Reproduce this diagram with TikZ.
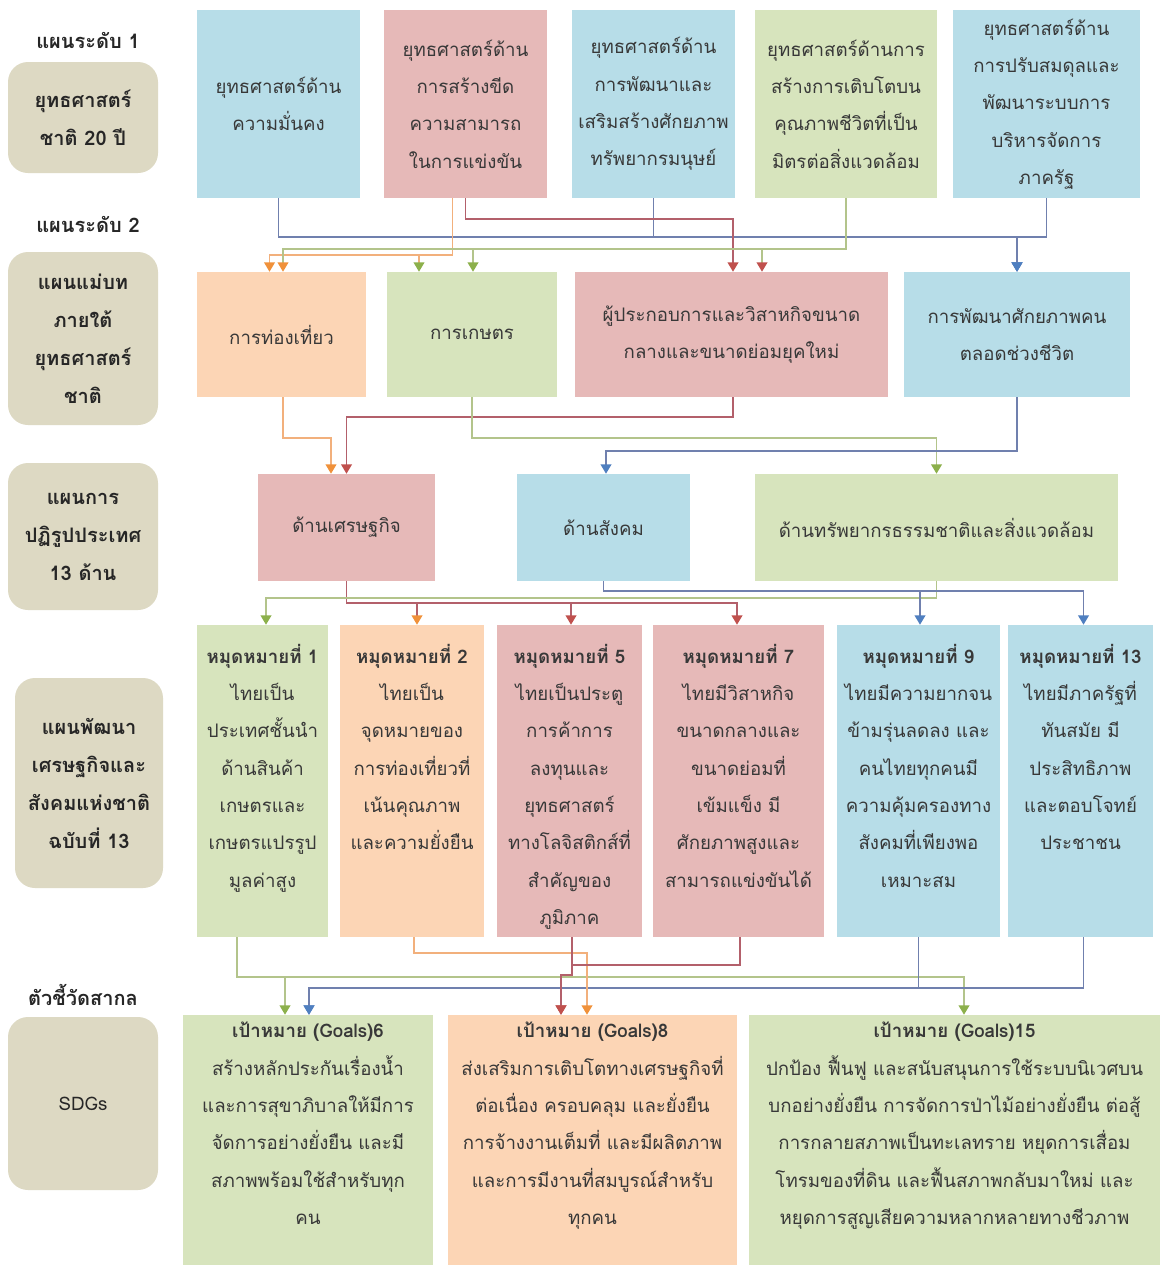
\documentclass[tikz,border=0pt]{standalone}
\usepackage{fontspec}
\newfontfamily\thaifont[Script=Thai]{Loma}
\usetikzlibrary{arrows.meta,calc,positioning}
\definecolor{boxblue}{HTML}{B7DDE8}
\definecolor{boxpink}{HTML}{E6B9B8}
\definecolor{boxgreen}{HTML}{D7E4BD}
\definecolor{boxorange}{HTML}{FCD5B5}
\definecolor{boxtan}{HTML}{DDD9C3}
\definecolor{lnblue}{HTML}{7080AE}
\definecolor{lnred}{HTML}{B3606B}
\definecolor{lnorange}{HTML}{F2B07C}
\definecolor{lngreen}{HTML}{B3C48B}
\definecolor{tipor}{HTML}{F0913A}
\definecolor{tipgr}{HTML}{8CB04B}
\definecolor{tipred}{HTML}{C0504D}
\definecolor{tipbl}{HTML}{4F7FC0}
\definecolor{txtgray}{HTML}{383838}
\tikzset{
	box/.style={
		rectangle,
		inner sep=0pt,
		align=center,
		text=txtgray,
		font=\thaifont\fontsize{14}{28}\selectfont},
	blu/.style={box, fill=boxblue},
	pnk/.style={box, fill=boxpink},
	grn/.style={box, fill=boxgreen},
	org/.style={box, fill=boxorange},
	tan/.style={
		box,
		fill=boxtan,
		rounded corners=15pt,
		text=black!85,
		font=\thaifont\bfseries\fontsize{15}{28.5}\selectfont},
	level/.style={
		text=black!85,
		font=\thaifont\bfseries\fontsize{15}{28}\selectfont},
	bline/.style={draw=lnblue, line width=1.2pt},
	rline/.style={draw=lnred, line width=1.2pt},
	oline/.style={draw=lnorange, line width=1.2pt},
	gline/.style={draw=lngreen, line width=1.2pt},
	otip/.style={-{Triangle[width=8pt,length=7pt,color=tipor]}},
	gtip/.style={-{Triangle[width=8pt,length=7pt,color=tipgr]}},
	rtip/.style={-{Triangle[width=8pt,length=7pt,color=tipred]}},
	btip/.style={-{Triangle[width=8pt,length=7pt,color=tipbl]}}
}
% box from (x1,y1) to (x2,y2), text centred
\newcommand{\mkbox}[7]{%
	\node[#6, minimum width={(#4-#2)*0.75pt}, minimum height={(#5-#3)*0.75pt}]
		(#1) at ({(#2+#4)/2},{(#3+#5)/2}) {#7};}
% box from (x1,y1) to (x2,y2), text from the top, #7 = top pad
\newcommand{\topbox}[8]{%
	\node[#6, minimum width={(#4-#2)*0.75pt}, minimum height={(#5-#3)*0.75pt}]
		(#1) at ({(#2+#4)/2},{(#3+#5)/2})
		{\parbox[c][\dimexpr0.75pt*(#5-#3-2*#7)\relax][t]{\dimexpr0.75pt*(#4-#2-4)\relax}{\centering\rule{0pt}{14pt}#8}};}

\begin{document}
\begin{tikzpicture}[x=0.75pt,y=0.75pt,yscale=-1,xscale=1]
\useasboundingbox[fill=white] (0,0) rectangle (1169,1271);

% left column
\node[level] (lv1) at (88,40) {แผนระดับ 1};
\node[level] (lv2) at (88,224) {แผนระดับ 2};
\node[level] (lv3) at (83,995) {ตัวชี้วัดสากล};
\mkbox{l1}{8}{62}{158}{173}{tan}{ยุทธศาสตร์\\ชาติ 20 ปี}
\mkbox{l2}{8}{252}{158}{425}{tan}{แผนแม่บท\\ภายใต้\\ยุทธศาสตร์\\ชาติ}
\mkbox{l3}{8}{463}{158}{610}{tan}{แผนการ\\ปฏิรูปประเทศ\\13 ด้าน}
\mkbox{l4}{15}{678}{163}{888}{tan}{แผนพัฒนา\\เศรษฐกิจและ\\สังคมแห่งชาติ\\ฉบับที่ 13}
\mkbox{l5}{8}{1017}{158}{1190}{tan, font=\thaifont\fontsize{14}{28}\selectfont}{SDGs}

% level 1
\mkbox{b1}{197}{10}{360}{198}{blu}{ยุทธศาสตร์ด้าน\\ความมั่นคง}
\mkbox{b2}{384}{10}{547}{198}{pnk}{ยุทธศาสตร์ด้าน\\การสร้างขีด\\ความสามารถ\\ในการแข่งขัน}
\mkbox{b3}{572}{10}{735}{198}{blu}{ยุทธศาสตร์ด้าน\\การพัฒนาและ\\เสริมสร้างศักยภาพ\\ทรัพยากรมนุษย์}
\mkbox{b4}{755}{10}{937}{198}{grn}{ยุทธศาสตร์ด้านการ\\สร้างการเติบโตบน\\คุณภาพชีวิตที่เป็น\\มิตรต่อสิ่งแวดล้อม}
\mkbox{b5}{953}{10}{1140}{198}{blu}{ยุทธศาสตร์ด้าน\\การปรับสมดุลและ\\พัฒนาระบบการ\\บริหารจัดการ\\ภาครัฐ}

% level 2
\mkbox{c1}{197}{272}{366}{397}{org}{การท่องเที่ยว}
\mkbox{c2}{387}{272}{557}{397}{grn}{การเกษตร}
\mkbox{c3}{575}{272}{888}{397}{pnk}{ผู้ประกอบการและวิสาหกิจขนาด\\กลางและขนาดย่อมยุคใหม่}
\mkbox{c4}{904}{272}{1130}{397}{blu}{การพัฒนาศักยภาพคน\\ตลอดช่วงชีวิต}

% reform
\mkbox{d1}{258}{474}{435}{581}{pnk}{ด้านเศรษฐกิจ}
\mkbox{d2}{517}{474}{690}{581}{blu}{ด้านสังคม}
\mkbox{d3}{755}{474}{1118}{581}{grn}{ด้านทรัพยากรธรรมชาติและสิ่งแวดล้อม}

% milestones
\topbox{e1}{197}{625}{328}{937}{grn}{19}{\textbf{หมุดหมายที่ 1}\\ไทยเป็น\\ประเทศชั้นนำ\\ด้านสินค้า\\เกษตรและ\\เกษตรแปรรูป\\มูลค่าสูง}
\topbox{e2}{340}{625}{484}{937}{org}{19}{\textbf{หมุดหมายที่ 2}\\ไทยเป็น\\จุดหมายของ\\การท่องเที่ยวที่\\เน้นคุณภาพ\\และความยั่งยืน}
\topbox{e3}{497}{625}{642}{937}{pnk}{19}{\textbf{หมุดหมายที่ 5}\\ไทยเป็นประตู\\การค้าการ\\ลงทุนและ\\ยุทธศาสตร์\\ทางโลจิสติกส์ที่\\สำคัญของ\\ภูมิภาค}
\topbox{e4}{653}{625}{824}{937}{pnk}{19}{\textbf{หมุดหมายที่ 7}\\ไทยมีวิสาหกิจ\\ขนาดกลางและ\\ขนาดย่อมที่\\เข้มแข็ง มี\\ศักยภาพสูงและ\\สามารถแข่งขันได้}
\topbox{e5}{837}{625}{1000}{937}{blu}{19}{\textbf{หมุดหมายที่ 9}\\ไทยมีความยากจน\\ข้ามรุ่นลดลง และ\\คนไทยทุกคนมี\\ความคุ้มครองทาง\\สังคมที่เพียงพอ\\เหมาะสม}
\topbox{e6}{1008}{625}{1153}{937}{blu}{19}{\textbf{หมุดหมายที่ 13}\\ไทยมีภาครัฐที่\\ทันสมัย มี\\ประสิทธิภาพ\\และตอบโจทย์\\ประชาชน}

% SDGs
\topbox{f1}{183}{1015}{433}{1265}{grn}{4}{\textbf{เป้าหมาย (Goals)6}\\สร้างหลักประกันเรื่องน้ำ\\และการสุขาภิบาลให้มีการ\\จัดการอย่างยั่งยืน และมี\\สภาพพร้อมใช้สำหรับทุก\\คน}
\topbox{f2}{448}{1015}{737}{1265}{org}{4}{\textbf{เป้าหมาย (Goals)8}\\ส่งเสริมการเติบโตทางเศรษฐกิจที่\\ต่อเนื่อง ครอบคลุม และยั่งยืน\\การจ้างงานเต็มที่ และมีผลิตภาพ\\และการมีงานที่สมบูรณ์สำหรับ\\ทุกคน}
\topbox{f3}{749}{1015}{1160}{1265}{grn}{4}{\textbf{เป้าหมาย (Goals)15}\\ปกป้อง ฟื้นฟู และสนับสนุนการใช้ระบบนิเวศบน\\บกอย่างยั่งยืน การจัดการป่าไม้อย่างยั่งยืน ต่อสู้\\การกลายสภาพเป็นทะเลทราย หยุดการเสื่อม\\โทรมของที่ดิน และฟื้นสภาพกลับมาใหม่ และ\\หยุดการสูญเสียความหลากหลายทางชีวภาพ}

% level 1 -> level 2
\foreach \s in {b1,b3,b5}
	\draw[bline,btip] (\s.south) -- ++(0,39) -| (c4.north);
\draw[rline,rtip] (b2.south) -- ++(0,21) -| ($(c3.north)+(1.5,0)$);
\draw[oline,otip] ($(b2.south)+(-13,0)$) -- ++(0,57) -| ($(c1.north)+(-12,0)$);
\draw[oline,gtip] ($(b2.south)+(-13,0)$) -- ++(0,57) -| ($(c2.north)+(-53,0)$);
\draw[gline,otip] (b4.south) -- ++(0,51) -| ($(c1.north)+(1.5,0)$);
\draw[gline,gtip] (b4.south) -- ++(0,51) -| ($(c2.north)+(1,0)$);
\draw[gline,rtip] (b4.south) -- ++(0,51) -| ($(c3.north)+(30.5,0)$);

% level 2 -> reform
\draw[oline,otip] ($(c1.south)+(1.5,0)$) -- ++(0,41) -| ($(d1.north)+(-15.5,0)$);
\draw[rline,rtip] ($(c3.south)+(1.5,0)$) -- ++(0,20) -| (d1.north);
\draw[gline,gtip] (c2.south) -- ++(0,41) -| (d3.north);
\draw[bline,btip] (c4.south) -- ++(0,54) -| ($(d2.north)+(2.5,0)$);

% reform -> milestones
\draw[rline,otip] (d1.south) -- ++(0,22) -| ($(e2.north)+(5,0)$);
\draw[rline,rtip] (d1.south) -- ++(0,22) -| ($(e3.north)+(1.5,0)$);
\draw[rline,rtip] (d1.south) -- ++(0,22) -| ($(e4.north)+(-1.5,0)$);
\draw[gline,gtip] (d3.south) -- ++(0,17) -| ($(e1.north)+(3.5,0)$);
\draw[bline,btip] (d2.south) -- ++(0,10) -| ($(e5.north)+(1.5,0)$);
\draw[bline,btip] (d2.south) -- ++(0,10) -| ($(e6.north)+(3,0)$);

% milestones -> SDGs
\draw[gline,gtip] ($(e1.south)+(-25.5,0)$) -- ++(0,40) -| ($(f1.north)+(-23,0)$);
\draw[gline,gtip] ($(e1.south)+(-25.5,0)$) -- ++(0,40) -| ($(f3.north)+(9.5,0)$);
\draw[bline,btip] (e5.south) -- ++(0,51) -| ($(f1.north)+(1,0)$);
\draw[bline,btip] ($(e6.south)+(3,0)$) -- ++(0,51) -| ($(f1.north)+(1,0)$);
\draw[oline,otip] ($(e2.south)+(2,0)$) -- ++(0,16) -| ($(f2.north)+(-5.5,0)$);
\draw[rline,rtip] ($(e3.south)+(2.5,0)$) -- ++(0,38) -| ($(f2.north)+(-31.5,0)$);
\draw[rline,rtip] ($(e4.south)+(1.5,0)$) -- ++(0,28) -| ($(e3.south)+(2.5,38)$) -| ($(f2.north)+(-31.5,0)$);
\end{tikzpicture}
\end{document}
